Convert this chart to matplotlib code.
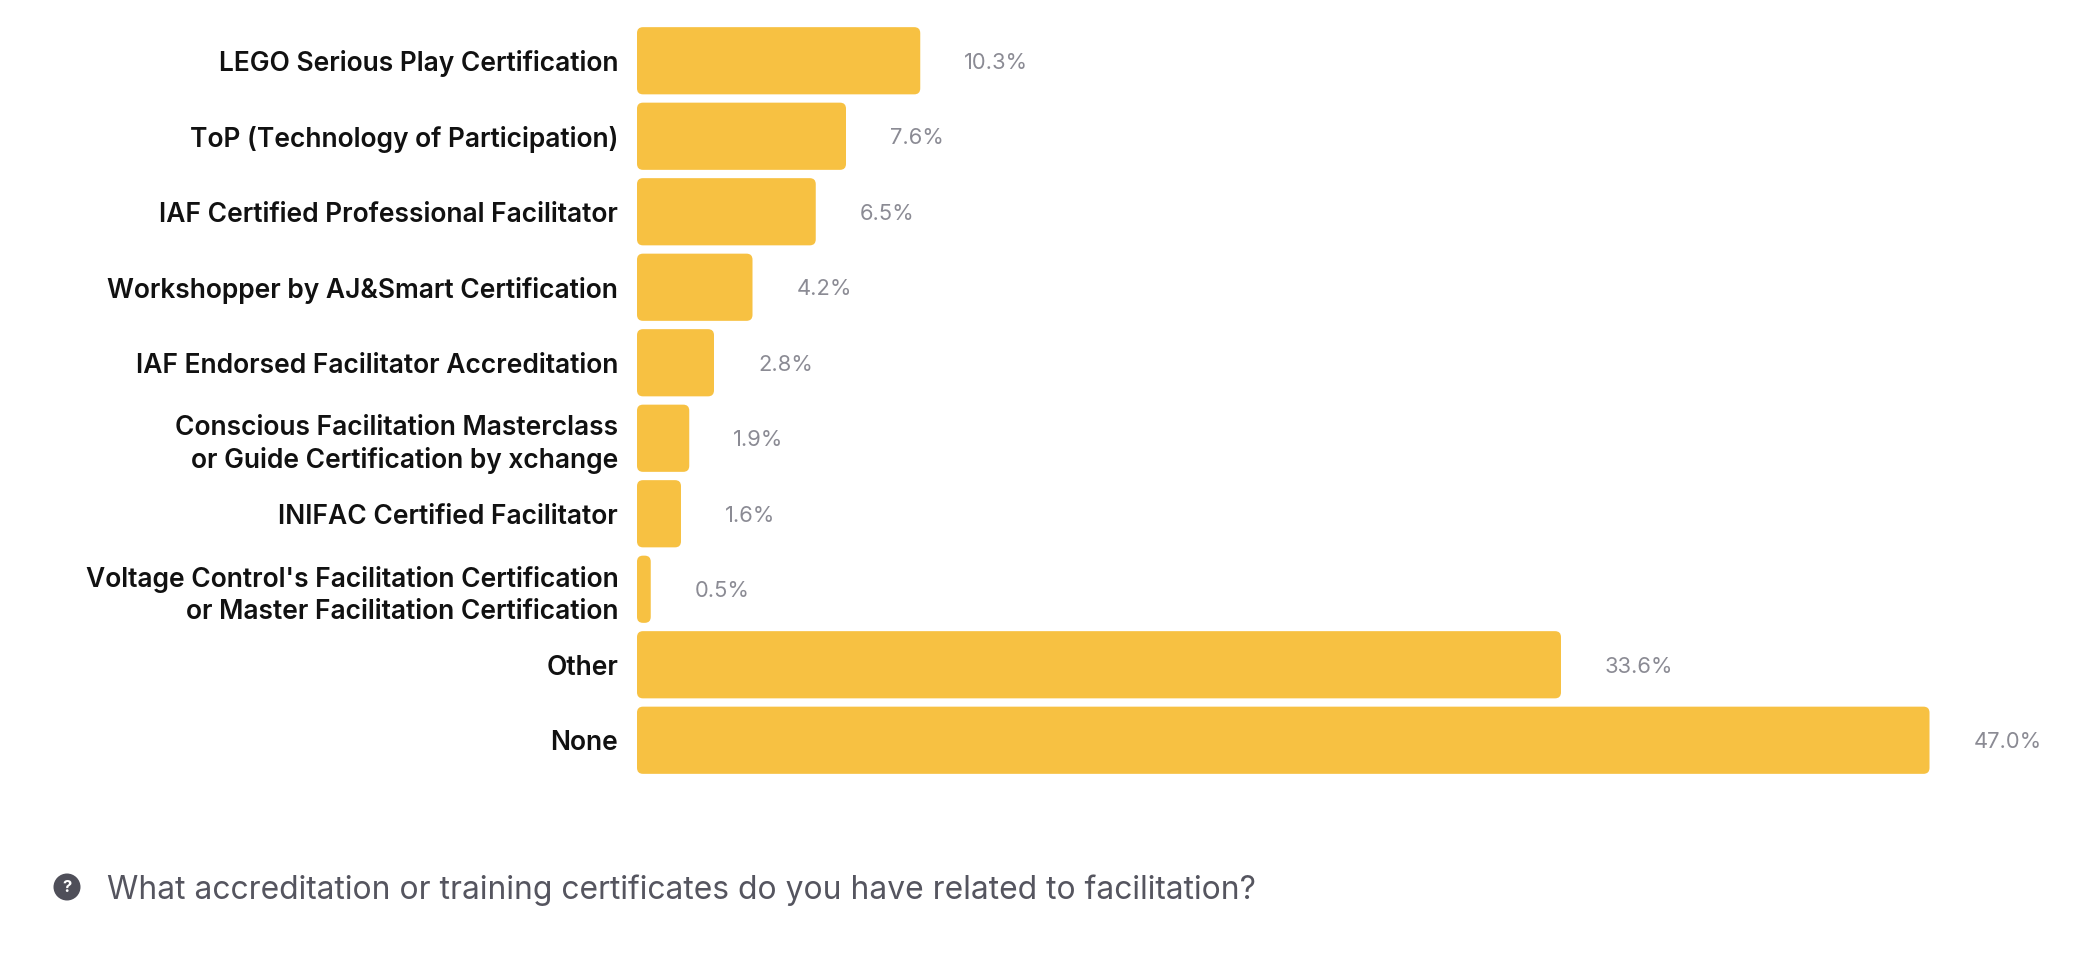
import matplotlib
matplotlib.use("Agg")
import matplotlib.pyplot as plt
from matplotlib.patches import FancyBboxPatch, Ellipse

# survey answers, top to bottom
categories = [
    "LEGO Serious Play Certification",
    "ToP (Technology of Participation)",
    "IAF Certified Professional Facilitator",
    "Workshopper by AJ&Smart Certification",
    "IAF Endorsed Facilitator Accreditation",
    "Conscious Facilitation Masterclass\nor Guide Certification by xchange",
    "INIFAC Certified Facilitator",
    "Voltage Control's Facilitation Certification\nor Master Facilitation Certification",
    "Other",
    "None",
]
shares = [10.3, 7.6, 6.5, 4.2, 2.8, 1.9, 1.6, 0.5, 33.6, 47.0]
value_labels = ["10.3%", "7.6%", "6.5%", "4.2%", "2.8%", "1.9%", "1.6%", "0.5%", "33.6%", "47.0%"]
question = "What accreditation or training certificates do you have related to facilitation?"

bar_color = "#F7C142"
W, H, DPI = 2098, 960, 100

plt.rcParams['font.family'] = ['Inter', 'DejaVu Sans']

fig = plt.figure(figsize=(W / DPI, H / DPI), dpi=DPI)

# axes placed in pixel terms
ax_left, ax_right = 637, 2098
ax_top, ax_bottom = 23, 778
ax = fig.add_axes([ax_left / W, 1 - ax_bottom / H, (ax_right - ax_left) / W, (ax_bottom - ax_top) / H])
px_per_pct = 27.5
ax.set_xlim(0, (ax_right - ax_left) / px_per_pct)
ax.set_ylim(len(categories) - 0.5, -0.5)

pos = list(range(len(categories)))
bars = ax.barh(pos, shares, height=0.89, color=bar_color)

# swap plain rectangles for rounded ones
x_per_px = 1 / px_per_pct
y_per_px = len(categories) / (ax_bottom - ax_top)
r_px = 6
for b in bars:
    b.set_visible(False)
    x, y, w, h = b.get_x(), b.get_y(), b.get_width(), b.get_height()
    r = min(r_px * x_per_px, w / 2)
    p = FancyBboxPatch((x, y), w, h,
                       boxstyle="round,pad=0,rounding_size=%f" % r,
                       mutation_aspect=y_per_px / x_per_px,
                       facecolor=bar_color, edgecolor="none")
    ax.add_patch(p)

for i, (v, lab) in enumerate(zip(shares, value_labels)):
    ax.text(v + 44 * x_per_px, i + 2 * y_per_px, lab, va="center", ha="left",
            fontsize=15.8, color="#8B8B94")

ax.set_yticks(pos)
ax.set_yticklabels(categories, fontsize=19, fontweight="semibold", color="#111111",
                   linespacing=1.3)
for t in ax.get_yticklabels():
    t.set_y(t.get_position()[1])
ax.tick_params(axis="y", length=0, pad=13.5)
ax.set_xticks([])
for s in ax.spines.values():
    s.set_visible(False)

# question line with the help icon
icon_x, icon_y = 67 / W, 1 - 887 / H
fig.patches.append(Ellipse((icon_x, icon_y), 27 / W, 27 / H, transform=fig.transFigure,
                           facecolor="#4F4F59", edgecolor="none"))
fig.text(icon_x, icon_y, "?", ha="center", va="center", fontsize=12,
         fontweight="bold", color="white")
fig.text(107 / W, 1 - 890 / H, question, ha="left", va="center", fontsize=22.9,
         color="#55555F")

fig.savefig("out.png", dpi=DPI, facecolor="white")
